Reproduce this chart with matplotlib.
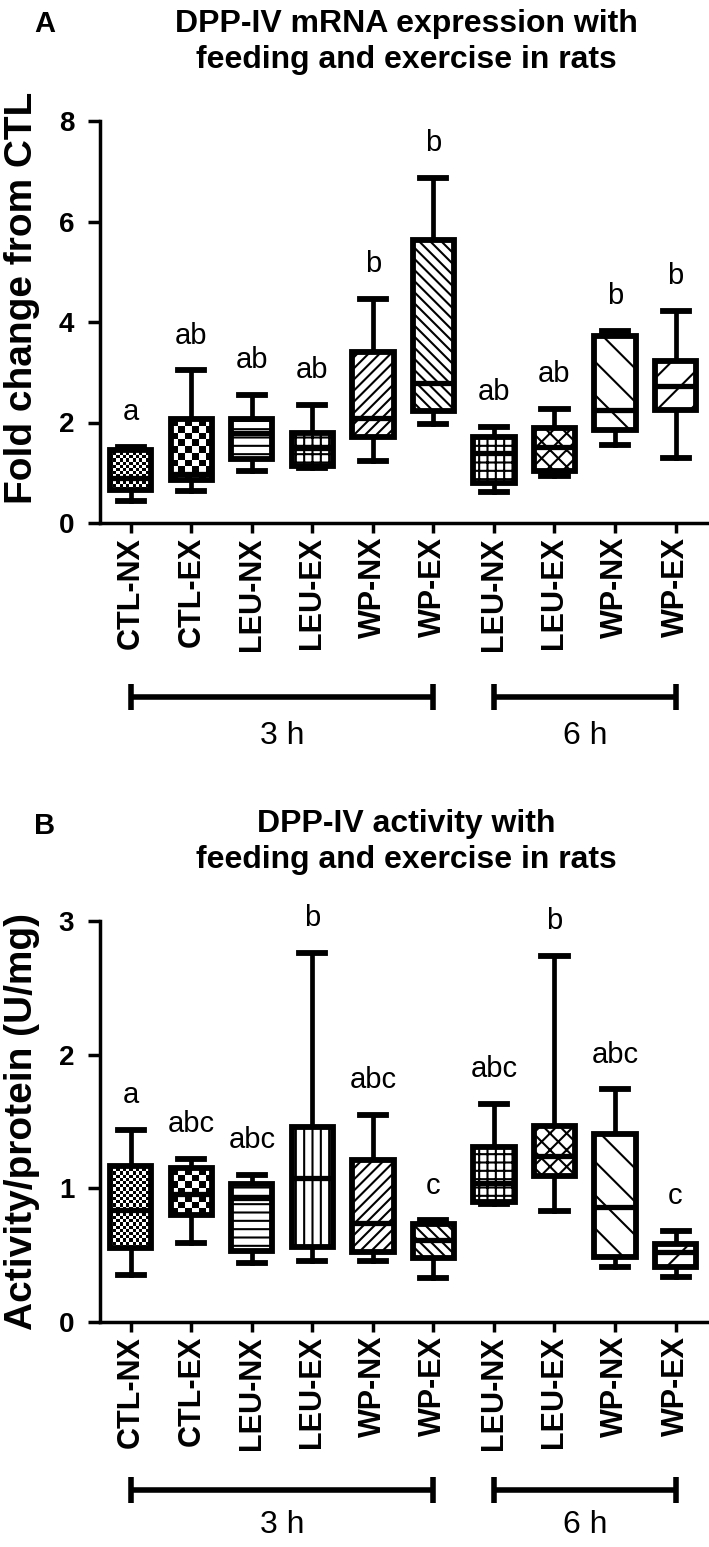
import numpy as np
import matplotlib
matplotlib.use("Agg")
import matplotlib.pyplot as plt

# ---------------- data ----------------
categories = ["CTL-NX", "CTL-EX", "LEU-NX", "LEU-EX", "WP-NX", "WP-EX",
              "LEU-NX", "LEU-EX", "WP-NX", "WP-EX"]

# Panel A: DPP-IV mRNA (fold change from CTL)
A_whislo = [0.43, 0.63, 1.03, 1.09, 1.24, 1.97, 0.61, 0.93, 1.56, 1.30]
A_q1     = [0.66, 0.86, 1.27, 1.13, 1.72, 2.22, 0.79, 1.03, 1.85, 2.25]
A_med    = [0.90, 0.98, 1.79, 1.49, 2.09, 2.78, 1.39, 1.52, 2.25, 2.72]
A_q3     = [1.46, 2.07, 2.07, 1.79, 3.40, 5.64, 1.71, 1.90, 3.72, 3.23]
A_whishi = [1.52, 3.04, 2.55, 2.35, 4.46, 6.87, 1.91, 2.27, 3.82, 4.22]
A_letters = ["a", "ab", "ab", "ab", "b", "b", "ab", "ab", "b", "b"]

# Panel B: DPP-IV activity (U/mg)
B_whislo = [0.35, 0.59, 0.44, 0.46, 0.46, 0.33, 0.88, 0.83, 0.41, 0.34]
B_q1     = [0.55, 0.80, 0.53, 0.56, 0.52, 0.48, 0.90, 1.09, 0.49, 0.41]
B_med    = [0.84, 0.96, 0.93, 1.08, 0.74, 0.61, 1.04, 1.24, 0.86, 0.52]
B_q3     = [1.17, 1.15, 1.03, 1.46, 1.21, 0.73, 1.31, 1.47, 1.41, 0.58]
B_whishi = [1.44, 1.22, 1.10, 2.76, 1.55, 0.76, 1.63, 2.74, 1.74, 0.68]
B_letters = ["a", "abc", "abc", "b", "abc", "c", "abc", "b", "abc", "c"]

groups = [("3 h", 0, 5), ("6 h", 6, 9)]

# ---------------- styles ----------------
hatches_A = ["checkfine", "checkcoarse", "--", "++", "///", "\\\\\\", "++", "xx", "\\", "/"]
hatches_B = ["checkfine", "checkcoarse", "--", "||", "///", "\\\\\\", "++", "xx", "\\", "/"]

plt.rcParams["font.family"] = ["Liberation Sans", "DejaVu Sans"]
plt.rcParams["hatch.linewidth"] = 1.5

W, H = 709, 1547
fig = plt.figure(figsize=(W / 100, H / 100), dpi=100)


def px_axes(left, top, right, bottom):
    return fig.add_axes([left / W, 1 - bottom / H, (right - left) / W, (bottom - top) / H])


def add_checker(ax, x0, x1, y0, y1, cell_px):
    p0 = ax.transData.transform((x0, y0))
    p1 = ax.transData.transform((x1, y1))
    nx = max(1, int(round(abs(p1[0] - p0[0]) / cell_px)))
    ny = max(1, int(round(abs(p1[1] - p0[1]) / cell_px)))
    arr = np.add.outer(np.arange(ny), np.arange(nx)) % 2
    ax.imshow(arr, extent=(x0, x1, y0, y1), origin="lower", cmap="gray",
              vmin=0, vmax=1, interpolation="nearest", aspect="auto", zorder=2)


def panel(ax, whislo, q1, med, q3, whishi, letters, hatches, ymax, yticks,
          bracket_y, label_y):
    pos = np.arange(len(categories))
    ax.set_xlim(-0.51, 9.52)
    ax.set_ylim(0, ymax)
    stats = []
    for i in range(len(categories)):
        stats.append(dict(whislo=whislo[i], q1=q1[i], med=med[i], q3=q3[i],
                          whishi=whishi[i], fliers=[]))
    bw = 0.68
    res = ax.bxp(stats, positions=pos, widths=bw, patch_artist=True,
                 showfliers=False, manage_ticks=False,
                 boxprops=dict(linewidth=4.2, edgecolor="black", facecolor="white"),
                 medianprops=dict(linewidth=3.8, color="black"),
                 whiskerprops=dict(linewidth=3.4, color="black"),
                 capprops=dict(linewidth=4.2, color="black"),
                 capwidths=0.43)
    for i, box in enumerate(res["boxes"]):
        h = hatches[i]
        box.set_zorder(3)
        if h.startswith("check"):
            box.set_facecolor("none")
            add_checker(ax, i - bw / 2, i + bw / 2, q1[i], q3[i],
                        3.2 if h == "checkfine" else 6.5)
        else:
            box.set_hatch(h)
    for m in res["medians"]:
        m.set_zorder(4)
    ax.set_xlim(-0.51, 9.52)
    ax.set_ylim(0, ymax)

    for i in range(len(categories)):
        ax.annotate(letters[i], (pos[i], whishi[i]), xytext=(0, 25),
                    textcoords="offset points", ha="center", va="center",
                    fontsize=21)

    for s in ["top", "right"]:
        ax.spines[s].set_visible(False)
    for s in ["left", "bottom"]:
        ax.spines[s].set_linewidth(2.5)
    ax.spines["left"].set_bounds(0, ymax)
    ax.set_yticks(yticks)
    ax.set_yticklabels([str(t) for t in yticks], fontsize=20, fontweight="bold")
    ax.tick_params(axis="y", length=8.5, width=2.5, pad=10)
    ax.set_xticks(pos)
    ax.set_xticklabels(categories, rotation=90, fontsize=22, fontweight="bold")
    ax.tick_params(axis="x", length=7, width=2.5, pad=3)

    tr = ax.get_xaxis_transform()
    for name, a, b in groups:
        ax.plot([a, b], [bracket_y, bracket_y], color="black", lw=4.0,
                transform=tr, clip_on=False, solid_capstyle="butt")
        for xe in (a, b):
            ax.plot([xe, xe], [bracket_y - 0.033, bracket_y + 0.033], color="black",
                    lw=4.0, transform=tr, clip_on=False, solid_capstyle="butt")
        ax.text((a + b) / 2, label_y, name, transform=tr, ha="center", va="center",
                fontsize=23)


axA = px_axes(100, 121, 707, 523)
panel(axA, A_whislo, A_q1, A_med, A_q3, A_whishi, A_letters, hatches_A,
      8, [0, 2, 4, 6, 8], -0.433, -0.53)
axB = px_axes(100, 921, 707, 1322)
panel(axB, B_whislo, B_q1, B_med, B_q3, B_whishi, B_letters, hatches_B,
      3, [0, 1, 2, 3], -0.419, -0.505)

fig.text(22 / W, 1 - 298 / H, "Fold change from CTL", rotation=90, ha="center",
         va="center", fontsize=28, fontweight="bold")
fig.text(22 / W, 1 - 1122 / H, "Activity/protein (U/mg)", rotation=90, ha="center",
         va="center", fontsize=28, fontweight="bold")

fig.text(406 / W, 1 - 42 / H, "DPP-IV mRNA expression with\nfeeding and exercise in rats",
         ha="center", va="center", fontsize=23, fontweight="bold", linespacing=1.3)
fig.text(406 / W, 1 - 842 / H, "DPP-IV activity with\nfeeding and exercise in rats",
         ha="center", va="center", fontsize=23, fontweight="bold", linespacing=1.3)
fig.text(45 / W, 1 - 24 / H, "A", ha="center", va="center", fontsize=21, fontweight="bold")
fig.text(45 / W, 1 - 826 / H, "B", ha="center", va="center", fontsize=21, fontweight="bold")

fig.savefig("out.png", dpi=100)
